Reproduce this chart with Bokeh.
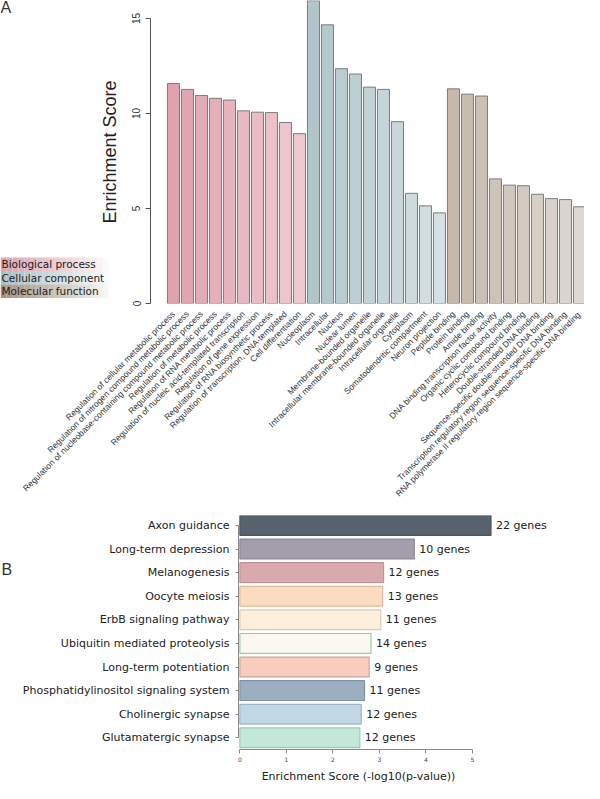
import numpy as np
from math import pi
from bokeh.plotting import figure
from bokeh.models import ColumnDataSource, Range1d, FixedTicker, Label, LabelSet
from bokeh.layouts import column
from bokeh.core.properties import value
from bokeh.embed import file_html
from bokeh.resources import INLINE

# ---------------- data: panel A (GO enrichment) ----------------
bp_terms = [
    "Regulation of cellular metabolic process",
    "Regulation of nitrogen compound metabolic process",
    "Regulation of nucleobase-containing compound metabolic process",
    "Regulation of metabolic process",
    "Regulation of RNA metabolic process",
    "Regulation of nucleic acid-templated transcription",
    "Regulation of gene expression",
    "Regulation of RNA biosynthetic process",
    "Regulation of transcription, DNA-templated",
    "Cell differentiation",
]
bp_scores = [11.58, 11.27, 10.95, 10.80, 10.71, 10.14, 10.07, 10.05, 9.53, 8.94]

cc_terms = [
    "Nucleoplasm",
    "Intracellular",
    "Nucleus",
    "Nuclear lumen",
    "Membrane-bounded organelle",
    "Intracellular membrane-bounded organelle",
    "Intracellular organelle",
    "Cytoplasm",
    "Somatodendritic compartment",
    "Neuron projection",
]
cc_scores = [15.94, 14.67, 12.36, 12.08, 11.39, 11.27, 9.57, 5.80, 5.14, 4.77]

mf_terms = [
    "Peptide binding",
    "Protein binding",
    "Amide binding",
    "DNA binding transcription factor activity",
    "Organic cyclic compound binding",
    "Heterocyclic compound binding",
    "Double-stranded DNA binding",
    "Sequence-specific double-stranded DNA binding",
    "Transcription regulatory region sequence-specific DNA binding",
    "RNA polymerase II regulatory region sequence-specific DNA binding",
]
mf_scores = [11.30, 11.02, 10.92, 6.56, 6.23, 6.20, 5.75, 5.52, 5.47, 5.09]

go_groups = ["Biological process", "Cellular component", "Molecular function"]
a_yticks = [0, 5, 10, 15]

# ---------------- data: panel B (KEGG pathways) ----------------
kegg_pathways = [
    "Axon guidance",
    "Long-term depression",
    "Melanogenesis",
    "Oocyte meiosis",
    "ErbB signaling pathway",
    "Ubiquitin mediated proteolysis",
    "Long-term potentiation",
    "Phosphatidylinositol signaling system",
    "Cholinergic synapse",
    "Glutamatergic synapse",
]
kegg_scores = [5.40, 3.75, 3.09, 3.07, 3.03, 2.82, 2.78, 2.68, 2.61, 2.58]
kegg_genes = [22, 10, 12, 13, 11, 14, 9, 11, 12, 12]
b_xticks = [0, 1, 2, 3, 4, 5]
b_xtitle = "Enrichment Score (-log10(p-value))"

# ---------------- styles ----------------
group_colors = {  # (first bar, last bar, legend swatch)
    "Biological process": ("#e0a2ad", "#efc9d0", "#dc9eab"),
    "Cellular component": ("#b1c6c9", "#d5e0e4", "#a3bec4"),
    "Molecular function": ("#c6b8aa", "#dfd9d4", "#9e8e7e"),
}
kegg_fill = ["#59636d", "#a49dab", "#d8aaad", "#fbdcc0", "#fdefdc",
             "#fcf8ef", "#f9cdbd", "#9cafc0", "#c2d7e4", "#c3e8da"]
kegg_line = ["#4d565f", "#8f8898", "#c48f95", "#dcb996", "#dccbb4",
             "#9fcba8", "#c8a79e", "#7f92a4", "#9fb7c6", "#9ccab8"]


def hex2rgb(h):
    h = h.lstrip("#")
    return np.array([int(h[i:i + 2], 16) for i in (0, 2, 4)], dtype=float)


def ramp(c0, c1, n):
    a, b = hex2rgb(c0), hex2rgb(c1)
    out = []
    for t in np.linspace(0, 1, n):
        r, g, bb = (a + (b - a) * t).round().astype(int)
        out.append("#%02x%02x%02x" % (r, g, bb))
    return out


def no_frame_align(p):
    try:
        p.frame_align = False
    except Exception:
        pass


terms = bp_terms + cc_terms + mf_terms
scores = bp_scores + cc_scores + mf_scores
colors = []
for g, lst in zip(go_groups, (bp_terms, cc_terms, mf_terms)):
    c0, c1, _ = group_colors[g]
    colors += ramp(c0, c1, len(lst))
idx = list(range(len(terms)))

src_a = ColumnDataSource(dict(x=idx, top=scores, color=colors, term=terms))

# ---------------- panel A figure ----------------
A_W = 584
A_LEFT, A_BOTTOM = 150, 212
A_FRAME_H = 303
A_H = A_FRAME_H + A_BOTTOM
A_X0, A_X1 = -1.64, 29.36
A_Y1 = 15.95

pa = figure(width=A_W, height=A_H, output_backend="svg", toolbar_location=None,
            x_range=Range1d(A_X0, A_X1), y_range=Range1d(0, A_Y1),
            min_border_left=A_LEFT, min_border_right=0, min_border_top=0,
            min_border_bottom=A_BOTTOM)
no_frame_align(pa)
pa.outline_line_color = None
pa.grid.visible = False
pa.background_fill_color = "white"

pa.vbar(x="x", top="top", bottom=0, width=0.86, source=src_a,
        fill_color="color", line_color="#7c7c7c", line_width=1)

xa = pa.xaxis[0]
xa.ticker = FixedTicker(ticks=idx)
xa.major_label_overrides = {i: t for i, t in zip(idx, terms)}
xa.major_label_orientation = pi / 4
xa.axis_line_color = None
xa.major_tick_line_color = None
xa.minor_tick_line_color = None
xa.major_label_text_font = "Liberation Sans"
xa.major_label_text_font_size = "8.5px"
xa.major_label_text_color = "#333333"
xa.major_label_standoff = 3

ya = pa.yaxis[0]
ya.ticker = FixedTicker(ticks=a_yticks)
ya.bounds = (a_yticks[0], a_yticks[-1])
ya.minor_tick_line_color = None
ya.major_tick_in = 0
ya.major_tick_out = 5
ya.axis_line_color = "#555555"
ya.major_tick_line_color = "#555555"
ya.major_label_orientation = "vertical"
ya.major_label_text_font = "Liberation Sans"
ya.major_label_text_font_size = "10px"
ya.major_label_text_color = "#333333"
ya.major_label_standoff = 5
ya.axis_label = "Enrichment Score"
ya.axis_label_text_font = "Liberation Sans"
ya.axis_label_text_font_size = "18px"
ya.axis_label_text_font_style = "normal"
ya.axis_label_text_color = "#222222"
ya.axis_label_standoff = 10

# ---------------- overlay for panel letter A + legend (transparent, on top of pa) ----------------
OV_H = 310
ov = figure(width=A_W, height=OV_H, output_backend="svg", toolbar_location=None,
            x_range=Range1d(0, A_W), y_range=Range1d(OV_H, 0),
            x_axis_location=None, y_axis_location=None, min_border=0,
            border_fill_alpha=0.0, background_fill_alpha=0.0)
no_frame_align(ov)
ov.outline_line_color = None
ov.grid.visible = False
ov.margin = (-A_H, 0, A_H - OV_H, 0)

row_tops = [257, 270.5, 284]      # in overlay pixels (page y - 8)
row_h = 13.5
n_strips = 18
strip_w = 6.0
sl, sr, st, sb, sc, sa = [], [], [], [], [], []
for r, g in enumerate(go_groups):
    for s in range(n_strips):
        t = s / n_strips
        sl.append(s * strip_w)
        sr.append((s + 1) * strip_w)
        st.append(row_tops[r])
        sb.append(row_tops[r] + row_h)
        sc.append(group_colors[g][2])
        sa.append(0.95 * (1 - t) ** 0.9)
ov.quad(left=sl, right=sr, top=st, bottom=sb, fill_color=sc, fill_alpha=sa, line_color=None)
ov.text(x=[1] * len(go_groups), y=[rt + row_h / 2 for rt in row_tops], text=go_groups,
        text_font=value("DejaVu Sans"), text_font_size="10.5px", text_color="#222222",
        text_baseline="middle", text_align="left")
ov.text(x=[0], y=[7], text=["A"], text_font=value("Liberation Sans"),
        text_font_size="16px", text_color="#333333",
        text_baseline="middle", text_align="left")

# ---------------- panel B figure ----------------
B_W = 584
B_H = 783 - A_H
B_LEFT, B_BOTTOM = 238, 34
B_FRAME_H = B_H - B_BOTTOM
B_X0 = -0.03
b_px = 46.5
B_X1 = B_X0 + (B_W - B_LEFT) / b_px
b_py = 23.6
B_YTOP = -0.42
B_YBOT = B_YTOP + B_FRAME_H / b_py

kidx = list(range(len(kegg_pathways)))
src_b = ColumnDataSource(dict(y=kidx, right=kegg_scores, fill=kegg_fill, line=kegg_line,
                              lab=["%d genes" % n for n in kegg_genes]))

pb = figure(width=B_W, height=B_H, output_backend="svg", toolbar_location=None,
            x_range=Range1d(B_X0, B_X1), y_range=Range1d(B_YBOT, B_YTOP),
            min_border_left=B_LEFT, min_border_right=0, min_border_top=0,
            min_border_bottom=B_BOTTOM)
no_frame_align(pb)
pb.outline_line_color = None
pb.grid.visible = False

pb.hbar(y="y", left=0, right="right", height=0.84, source=src_b,
        fill_color="fill", line_color="line", line_width=1.2)

pb.add_layout(LabelSet(x="right", y="y", text="lab", source=src_b, x_offset=5,
                       text_font=value("DejaVu Sans"), text_font_size="11px",
                       text_color="#222222", text_baseline="middle", text_align="left"))

yb = pb.yaxis[0]
yb.ticker = FixedTicker(ticks=kidx)
yb.major_label_overrides = {i: t for i, t in zip(kidx, kegg_pathways)}
yb.bounds = (kidx[0], kidx[-1])
yb.axis_line_color = "#8a8a8a"
yb.major_tick_line_color = "#8a8a8a"
yb.minor_tick_line_color = None
yb.major_tick_in = 0
yb.major_tick_out = 3
yb.major_label_text_font = "DejaVu Sans"
yb.major_label_text_font_size = "11px"
yb.major_label_text_color = "#222222"
yb.major_label_standoff = 6

xb = pb.xaxis[0]
xb.ticker = FixedTicker(ticks=b_xticks)
xb.bounds = (b_xticks[0], b_xticks[-1])
xb.axis_line_color = "#8a8a8a"
xb.major_tick_line_color = "#8a8a8a"
xb.minor_tick_line_color = None
xb.major_tick_in = 0
xb.major_tick_out = 4
xb.major_label_text_font = "DejaVu Sans"
xb.major_label_text_font_size = "6px"
xb.major_label_text_color = "#444444"
xb.major_label_standoff = 3


def bx_(page_x):
    return B_X0 + (page_x - 8 - B_LEFT) / b_px


def by_(page_y):
    top_page = 8 + A_H
    return B_YTOP + (page_y - top_page) / b_py


pb.add_layout(Label(x=bx_(366), y=by_(784), text=b_xtitle,
                    text_font="DejaVu Sans", text_font_size="11px",
                    text_color="#222222", text_baseline="middle", text_align="center"),
              "below")
pb.add_layout(Label(x=bx_(9), y=by_(577), text="B", text_font="Liberation Sans",
                    text_font_size="16px", text_color="#333333",
                    text_baseline="middle", text_align="left"), "left")

layout = column(pa, ov, pb, spacing=0)
open("out.html", "w").write(file_html(layout, INLINE))
